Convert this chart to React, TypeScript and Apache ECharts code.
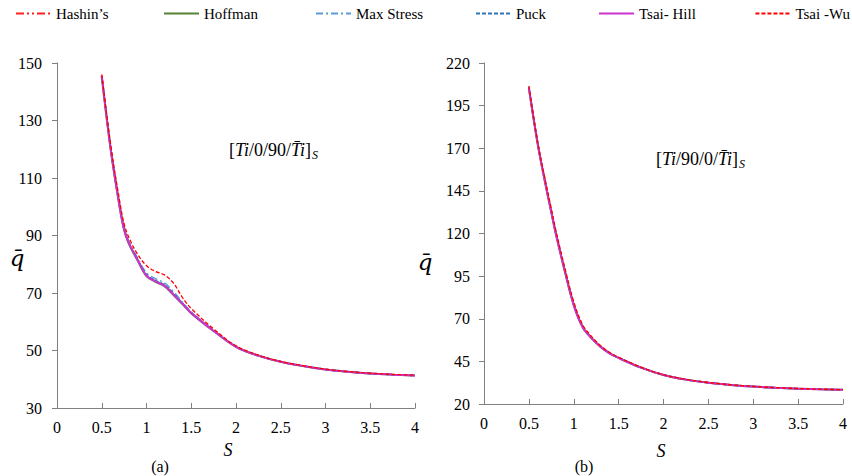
import { useEffect, useRef } from "react";
import * as echarts from "echarts";

const sValues = [0.5, 0.6, 0.7, 0.75, 0.8, 0.9, 1, 1.1, 1.2, 1.3, 1.4, 1.5, 1.75, 2, 2.25, 2.5, 2.75, 3, 3.25, 3.5, 3.75, 4];
const seriesNames = ["Hashin\u2019s", "Hoffman", "Max Stress", "Puck", "Tsai- Hill", "Tsai -Wu"];

// (a) [Ti/0/90/Ti]s
const aHashin = [145.5, 120.1, 100.2, 92.2, 87.6, 81.6, 76.2, 74.2, 72.7, 69.7, 66.4, 63.1, 56.9, 51.3, 48.2, 46.1, 44.6, 43.4, 42.6, 42, 41.6, 41.3];
const aHoffman = [145.4, 120, 100, 92, 87.4, 81.4, 75.9, 73.9, 72.4, 69.4, 66.2, 63, 56.8, 51.3, 48.2, 46.1, 44.6, 43.4, 42.6, 42, 41.6, 41.3];
const aMaxStress = [145.6, 120.5, 100.8, 92.8, 88.2, 82.2, 77, 75, 73.5, 70.5, 66.9, 63.4, 57, 51.4, 48.3, 46.1, 44.6, 43.4, 42.6, 42, 41.6, 41.3];
const aPuck = [145.5, 120.2, 100.3, 92.3, 87.8, 81.8, 76.4, 74.4, 72.9, 69.9, 66.5, 63.2, 56.9, 51.3, 48.2, 46.1, 44.6, 43.4, 42.6, 42, 41.6, 41.3];
const aTsaiHill = [145.5, 120, 100, 92, 87.5, 81.5, 76, 74, 72.5, 69.5, 66.3, 63, 56.8, 51.3, 48.2, 46.1, 44.6, 43.4, 42.6, 42, 41.6, 41.3];
const aTsaiWu = [146, 121.5, 102, 94, 89.5, 83.5, 79.5, 77.5, 76.3, 73.5, 68.5, 64.6, 57.5, 51.6, 48.4, 46.2, 44.7, 43.5, 42.7, 42.1, 41.7, 41.4];

// (b) [Ti/90/0/Ti]s
const bHashin = [205.6, 172.2, 145.3, 132.7, 120.4, 98.3, 78.2, 65.2, 58.7, 53.6, 49.8, 47.1, 41.4, 37, 34.3, 32.5, 31.2, 30.2, 29.5, 29, 28.6, 28.3];
const bHoffman = [205.4, 172, 145, 132.5, 120, 98, 78, 65, 58.5, 53.5, 49.7, 47, 41.3, 37, 34.3, 32.5, 31.2, 30.2, 29.5, 29, 28.6, 28.3];
const bMaxStress = [205.8, 172.5, 145.7, 133.1, 120.8, 98.7, 78.6, 65.4, 58.8, 53.7, 49.9, 47.1, 41.4, 37.1, 34.4, 32.5, 31.2, 30.2, 29.5, 29, 28.6, 28.3];
const bPuck = [205.6, 172.1, 145.2, 132.6, 120.3, 98.2, 78.2, 65.1, 58.6, 53.6, 49.8, 47.1, 41.4, 37, 34.3, 32.5, 31.2, 30.2, 29.5, 29, 28.6, 28.3];
const bTsaiHill = [205.5, 172, 145, 132.5, 120, 98, 78, 65, 58.5, 53.5, 49.7, 47, 41.3, 37, 34.3, 32.5, 31.2, 30.2, 29.5, 29, 28.6, 28.3];
const bTsaiWu = [206.5, 173.3, 147, 134.5, 122, 100, 80, 66.4, 59.5, 54.2, 50.2, 47.4, 41.6, 37.2, 34.5, 32.6, 31.3, 30.3, 29.6, 29.1, 28.7, 28.4];

const leftSeries = [aHashin, aHoffman, aMaxStress, aPuck, aTsaiHill, aTsaiWu];
const rightSeries = [bHashin, bHoffman, bMaxStress, bPuck, bTsaiHill, bTsaiWu];

const FONT = "Liberation Serif";

const styles = [
  { color: "#ff2020", type: [8, 3, 2, 3, 2, 3], width: 1.5 },
  { color: "#548235", type: "solid", width: 2 },
  { color: "#5b9bd5", type: [7, 3, 2, 3], width: 1.5 },
  { color: "#2e75b6", type: [4, 2], width: 1.5 },
  { color: "#cc33cc", type: "solid", width: 2 },
  { color: "#ff0000", type: [4, 2], width: 1.3 },
];

const legendPos: any[] = [
  { left: 15 },
  { left: 163 },
  { left: 315 },
  { left: 475 },
  { left: 598 },
  { right: 2 },
];

export default function App() {
  const ref = useRef<HTMLDivElement>(null);
  useEffect(() => {
    if (!ref.current) return;
    const chart = echarts.init(ref.current, undefined, { renderer: "svg" });

    const axisLine = { show: true, lineStyle: { color: "#808080", width: 1 } };
    const labelStyle = { color: "#000", fontFamily: FONT, fontSize: 16 };

    const makeX = (gridIndex: number) => ({
      type: "value" as const,
      gridIndex,
      min: 0,
      max: 4,
      interval: 0.5,
      axisLine,
      axisTick: { show: true, inside: true, length: 5, lineStyle: { color: "#808080" } },
      axisLabel: { ...labelStyle, margin: 11 },
      splitLine: { show: false },
    });

    const makeY = (gridIndex: number, min: number, max: number, interval: number, margin: number) => ({
      type: "value" as const,
      gridIndex,
      min,
      max,
      interval,
      axisLine,
      axisTick: { show: true, inside: false, length: 5, lineStyle: { color: "#808080" } },
      axisLabel: { ...labelStyle, margin },
      splitLine: { show: false },
    });

    const series: any[] = [];
    [leftSeries, rightSeries].forEach((set, gi) => {
      set.forEach((vals, i) => {
        series.push({
          name: seriesNames[i],
          type: "line",
          xAxisIndex: gi,
          yAxisIndex: gi,
          data: sValues.map((s, k) => [s, vals[k]]),
          symbol: "none",
          smooth: 0.35,
          lineStyle: { ...styles[i] },
          itemStyle: { color: styles[i].color },
          z: 2 + i,
        });
      });
    });

    const annoRich = {
      b: { fontFamily: FONT, fontSize: 18, color: "#000" },
      i: { fontFamily: FONT, fontSize: 18, fontStyle: "italic", color: "#000" },
      s: { fontFamily: FONT, fontSize: 12, fontStyle: "italic", color: "#000", padding: [9, 0, 0, 1] },
    };

    chart.setOption({
      animation: false,
      backgroundColor: "#ffffff",
      legend: seriesNames.map((n, i) => ({
        data: [n],
        ...legendPos[i],
        top: 6,
        padding: 0,
        itemWidth: 35,
        itemHeight: 14,
        itemGap: 4,
        selectedMode: false,
        itemStyle: { opacity: 0 },
        textStyle: { color: "#000", fontFamily: FONT, fontSize: 15 },
      })),
      grid: [
        { left: 57, top: 63, width: 358, height: 345, containLabel: false },
        { left: 484, top: 63, width: 359, height: 341, containLabel: false },
      ],
      xAxis: [makeX(0), makeX(1)],
      yAxis: [makeY(0, 30, 150, 20, 15), makeY(1, 20, 220, 25, 14)],
      series,
      graphic: [
        {
          type: "text",
          left: 229,
          top: 141,
          style: { text: "{b|[}{i|Ti}{b|/0/90/}{i|T\u0304i}{b|]}{s|S}", rich: annoRich },
        },
        {
          type: "text",
          left: 656,
          top: 150,
          style: { text: "{b|[}{i|Ti}{b|/90/0/}{i|T\u0304i}{b|]}{s|S}", rich: annoRich },
        },
        {
          type: "text",
          x: 17,
          y: 258,
          style: { text: "q\u0304", fontFamily: "DejaVu Serif", fontStyle: "italic", fontSize: 23, fill: "#000", align: "center", verticalAlign: "middle" },
        },
        {
          type: "text",
          x: 425,
          y: 262,
          style: { text: "q\u0304", fontFamily: "DejaVu Serif", fontStyle: "italic", fontSize: 23, fill: "#000", align: "center", verticalAlign: "middle" },
        },
        {
          type: "text",
          x: 228,
          y: 450,
          style: { text: "S", fontFamily: FONT, fontStyle: "italic", fontSize: 18, fill: "#000", align: "center", verticalAlign: "middle" },
        },
        {
          type: "text",
          x: 661,
          y: 451,
          style: { text: "S", fontFamily: FONT, fontStyle: "italic", fontSize: 18, fill: "#000", align: "center", verticalAlign: "middle" },
        },
        {
          type: "text",
          x: 160,
          y: 466,
          style: { text: "(a)", fontFamily: FONT, fontSize: 16, fill: "#000", align: "center", verticalAlign: "middle" },
        },
        {
          type: "text",
          x: 584,
          y: 466,
          style: { text: "(b)", fontFamily: FONT, fontSize: 16, fill: "#000", align: "center", verticalAlign: "middle" },
        },
      ],
    });

    return () => chart.dispose();
  }, []);

  return (
    <div
      ref={ref}
      style={{ position: "fixed", left: 0, top: 0, width: 852, height: 476, background: "#fff" }}
    />
  );
}
